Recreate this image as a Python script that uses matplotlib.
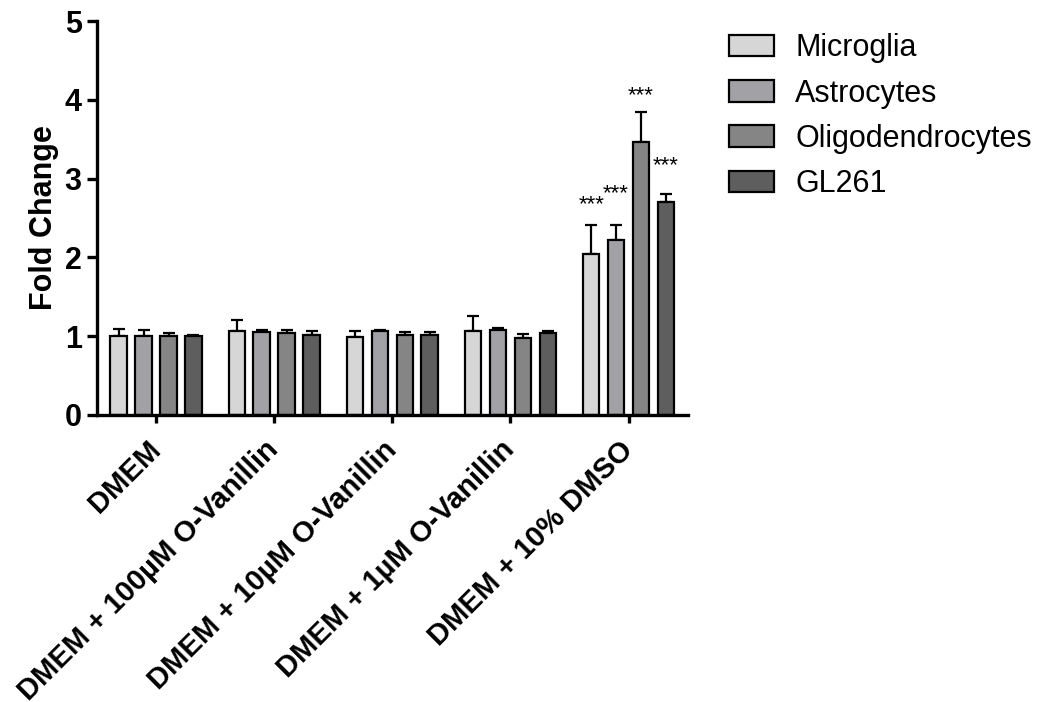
import numpy as np
import matplotlib.pyplot as plt

plt.rcParams['font.family'] = ['Liberation Sans', 'DejaVu Sans']

# Tratamientos y tipos celulares
tratamientos = ['DMEM', 'DMEM + 100µM O-Vanillin', 'DMEM + 10µM O-Vanillin',
                'DMEM + 1µM O-Vanillin', 'DMEM + 10% DMSO']
celulas = ['Microglia', 'Astrocytes', 'Oligodendrocytes', 'GL261']
colores = ['#d6d6d6', '#a2a2a6', '#858585', '#5e5e5e']

# Fold change medio por tipo celular (una lista por serie)
microglia = [1.00, 1.06, 0.99, 1.06, 2.04]
astrocitos = [1.00, 1.05, 1.06, 1.08, 2.22]
oligodendrocitos = [1.00, 1.04, 1.02, 0.98, 3.47]
gl261 = [1.00, 1.01, 1.01, 1.04, 2.70]

# Error (solo hacia arriba)
err_microglia = [0.09, 0.15, 0.08, 0.19, 0.37]
err_astrocitos = [0.08, 0.03, 0.02, 0.02, 0.19]
err_oligodendrocitos = [0.04, 0.04, 0.03, 0.05, 0.38]
err_gl261 = [0.02, 0.06, 0.04, 0.03, 0.10]

medias = [microglia, astrocitos, oligodendrocitos, gl261]
errores = [err_microglia, err_astrocitos, err_oligodendrocitos, err_gl261]

# Significancia en el grupo DMSO
signif = ['***', '***', '***', '***']
signif_y = [2.53, 2.68, 3.92, 3.03]

fig = plt.figure(figsize=(10.49, 7.02), dpi=100)
ax = fig.add_axes([0.0925, 0.409, 0.563, 0.561])

x = np.arange(len(tratamientos))
paso = 0.211
ancho = 0.140

for i, (serie, err) in enumerate(zip(medias, errores)):
    pos = x + (i - 1.5) * paso
    ax.bar(pos, serie, ancho, color=colores[i], edgecolor='black',
           linewidth=1.6, label=celulas[i], zorder=2)
    ax.errorbar(pos, serie, yerr=[np.zeros(len(err)), err], fmt='none',
                ecolor='black', elinewidth=1.6, capsize=4, capthick=1.6, zorder=1)
    ax.text(pos[-1], signif_y[i], signif[i], ha='center', va='bottom',
            fontsize=16)

ax.set_xlim(-0.5, 4.5)
ax.set_ylim(0, 5)
ax.set_yticks([0, 1, 2, 3, 4, 5])
ax.set_xticks(x)
ax.set_xticklabels(tratamientos, rotation=45, ha='right', va='center',
                   rotation_mode='anchor', fontsize=21, fontweight='bold')
for t in ax.get_yticklabels():
    t.set_fontsize(22)
    t.set_fontweight('bold')
ax.set_ylabel('Fold Change', fontsize=22, fontweight='bold', labelpad=4)

for lado in ['top', 'right']:
    ax.spines[lado].set_visible(False)
for lado in ['left', 'bottom']:
    ax.spines[lado].set_linewidth(2.4)
ax.tick_params(axis='y', width=2.4, length=7, pad=4)
ax.tick_params(axis='x', width=2.4, length=6, pad=16)

ax.legend(loc='upper left', bbox_to_anchor=(1.05, 1.0), frameon=False,
          fontsize=22, handlelength=1.45, handleheight=0.7,
          handletextpad=0.7, labelspacing=0.5, borderaxespad=0)

fig.savefig('out.png', dpi=100)
